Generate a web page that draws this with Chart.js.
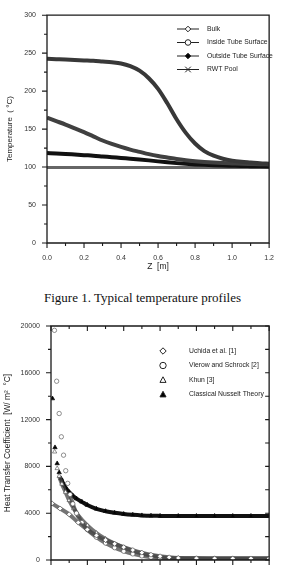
<!DOCTYPE html>
<html>
<head>
<meta charset="utf-8">
<script src="https://cdn.jsdelivr.net/npm/chart.js@4/dist/chart.umd.min.js"></script>
<style>
  html, body { margin: 0; padding: 0; background: #fff; width: 285px; height: 565px; overflow: hidden; }
  canvas { position: absolute; left: 0; }
  #tempChart { top: 0; }
  #htcChart { top: 305px; }
  #caption {
    position: absolute; left: 0; top: 291px; width: 285px; text-align: center;
    font: 13px/14px "Liberation Serif", "Times New Roman", serif; color: #111;
  }
</style>
</head>
<body>
<canvas id="tempChart" width="285" height="278"></canvas>
<div id="caption">Figure 1. Typical temperature profiles</div>
<canvas id="htcChart" width="285" height="300"></canvas>
<script>
// ---------- Figure 1: temperature profiles ----------
const zTop = [0, 0.05, 0.1, 0.15, 0.2, 0.25, 0.3, 0.35, 0.4, 0.45, 0.5, 0.55, 0.6,
  0.65, 0.7, 0.75, 0.8, 0.85, 0.9, 0.95, 1.0, 1.05, 1.1, 1.15, 1.2];
const bulk = [242.5, 242, 241.5, 241, 240.5, 240, 239, 238, 236.5, 233, 227, 217, 203,
  184, 163, 145, 131, 121, 115, 111, 108.5, 107, 106, 105, 104.5];
const insideSurface = [165, 160.5, 156, 151, 146, 140.5, 135, 130.5, 126.5, 123, 120, 117, 114.5,
  112.5, 110.5, 109, 107.8, 106.8, 106, 105.3, 104.8, 104.3, 104, 103.7, 103.5];
const outsideSurface = [118.5, 118, 117.3, 116.5, 115.7, 115, 114, 113, 112, 111, 110, 108.8, 107.5,
  106.3, 105.2, 104.3, 103.5, 102.9, 102.4, 102, 101.7, 101.4, 101.2, 101, 100.8];
const rwtPool = [99.5, 99.5, 99.5, 99.5, 99.5, 99.5, 99.5, 99.5, 99.5, 99.5, 99.5, 99.5, 99.5,
  99.5, 99.5, 99.5, 99.5, 99.5, 99.5, 99.5, 99.5, 99.5, 99.5, 99.5, 99.5];

// ---------- Figure 2: heat transfer coefficient ----------
const uchidaZ = [0.005, 0.05, 0.1, 0.15, 0.2, 0.25, 0.3, 0.35, 0.4, 0.45, 0.5, 0.55, 0.6,
  0.65, 0.7, 0.8, 0.9, 1.0, 1.1, 1.2];
const uchidaH = [4840, 4400, 3900, 3200, 2600, 2100, 1700, 1380, 1100, 850, 630, 450, 320,
  230, 170, 140, 130, 120, 120, 120];
const vierowZ = [0.019, 0.031, 0.045, 0.057, 0.069, 0.081, 0.092, 0.105, 0.12, 0.14, 0.17, 0.2,
  0.25, 0.3, 0.35, 0.4, 0.45, 0.5, 0.55, 0.6, 0.7, 0.8, 0.9, 1.0, 1.1, 1.2];
const vierowH = [19630, 15280, 12520, 10530, 8960, 7630, 6550, 5600, 4800, 4000, 3200, 2600,
  1950, 1450, 1050, 750, 520, 350, 240, 170, 130, 120, 120, 120, 120, 120];
const khunZ = [0.02, 0.034, 0.045, 0.06, 0.08, 0.1, 0.125, 0.15, 0.2, 0.25, 0.3, 0.35, 0.4,
  0.45, 0.5, 0.55, 0.6, 0.65, 0.7, 0.8, 0.9, 1.0, 1.1, 1.2];
const khunH = [9250, 7830, 7170, 6500, 5800, 5100, 4400, 3800, 2950, 2300, 1800, 1400, 1050,
  780, 560, 380, 250, 180, 150, 140, 135, 135, 130, 130];
const nusseltZ = [0.008, 0.022, 0.034, 0.045, 0.055, 0.07, 0.085, 0.1, 0.12, 0.14, 0.17, 0.2,
  0.25, 0.3, 0.35, 0.4, 0.45, 0.5, 0.55, 0.6, 0.7, 0.8, 0.9, 1.0, 1.1, 1.2];
const nusseltH = [13800, 9620, 8250, 7480, 6970, 6450, 6080, 5800, 5500, 5250, 4970, 4700,
  4370, 4170, 4030, 3930, 3860, 3810, 3780, 3770, 3760, 3760, 3760, 3760, 3760, 3760];

const FONT = '"Liberation Sans", Arial, sans-serif';
const pts = (xs, ys) => xs.map((x, i) => ({ x, y: ys[i] }));

function marker(ctx, style, x, y, r, filled) {
  ctx.beginPath();
  if (style === 'circle') {
    ctx.arc(x, y, r, 0, Math.PI * 2);
  } else if (style === 'rectRot') {
    ctx.moveTo(x, y - r); ctx.lineTo(x + r, y); ctx.lineTo(x, y + r); ctx.lineTo(x - r, y); ctx.closePath();
  } else if (style === 'triangle') {
    ctx.moveTo(x, y - r); ctx.lineTo(x + r * 0.95, y + r * 0.75); ctx.lineTo(x - r * 0.95, y + r * 0.75); ctx.closePath();
  } else {
    ctx.moveTo(x - r, y - r); ctx.lineTo(x + r, y + r); ctx.moveTo(x + r, y - r); ctx.lineTo(x - r, y + r);
  }
  if (style !== 'crossRot') {
    ctx.fillStyle = filled ? '#000' : '#fff';
    ctx.fill();
  }
  ctx.stroke();
}

// plot box and tick marks, placed with the scales' own ticks
function drawFrame(chart, o) {
  const ctx = chart.ctx;
  const a = chart.chartArea;
  const xs = chart.scales.x;
  const ys = chart.scales.y;
  ctx.save();
  ctx.strokeStyle = '#1a1a1a';
  ctx.lineWidth = 1.3;
  ctx.beginPath();
  ctx.moveTo(a.left, a.top); ctx.lineTo(a.right, a.top); ctx.lineTo(a.right, a.bottom);
  ctx.lineTo(a.left, a.bottom); ctx.closePath();
  ctx.stroke();
  ctx.lineWidth = 1.1;
  ctx.beginPath();
  xs.ticks.forEach((t, i) => {
    const px = xs.getPixelForValue(t.value);
    const len = i % 2 ? o.minor : o.major;
    ctx.moveTo(px, a.bottom); ctx.lineTo(px, a.bottom + len);
    if (o.inner) { ctx.moveTo(px, a.top); ctx.lineTo(px, a.top + len); }
  });
  ys.ticks.forEach((t, i) => {
    const py = ys.getPixelForValue(t.value);
    const len = i % 2 ? o.minor : o.major;
    ctx.moveTo(a.left - len, py); ctx.lineTo(a.left, py);
    if (o.inner) { ctx.moveTo(a.right - 4, py); ctx.lineTo(a.right, py); }
  });
  ctx.stroke();
  ctx.restore();
}

function drawLegend(chart, o) {
  const ctx = chart.ctx;
  ctx.save();
  ctx.font = `6.8px ${FONT}`;
  ctx.textBaseline = 'middle';
  ctx.lineWidth = 1;
  chart.data.datasets.forEach((ds, i) => {
    const yy = o.y + i * o.dy;
    ctx.strokeStyle = '#222';
    if (o.lineFrom) {
      ctx.beginPath(); ctx.moveTo(o.lineFrom, yy); ctx.lineTo(o.lineTo, yy); ctx.stroke();
    }
    marker(ctx, ds.pointStyle, o.markerX, yy, o.r, ds.filled);
    ctx.fillStyle = '#222';
    ctx.fillText(ds.label, o.textX, yy);
  });
  ctx.restore();
}

const decor = {
  id: 'decor',
  afterDraw(chart) {
    drawFrame(chart, chart.config.options.boxStyle);
    drawLegend(chart, chart.config.options.legendStyle);
  }
};

function axisX(height) {
  return {
    type: 'linear', min: 0, max: 1.2,
    grid: { display: false, drawTicks: false },
    border: { display: false },
    ticks: {
      stepSize: 0.1, autoSkip: false, maxRotation: 0, padding: 11, color: '#333',
      font: { family: FONT, size: 7 },
      callback: (v, i) => (i % 2 ? '' : v.toFixed(1))
    },
    title: { display: true, text: 'Z  [m]', color: '#222', font: { family: FONT, size: 8.5 }, padding: { top: 0, bottom: 6 } },
    afterFit: s => { s.height = height; }
  };
}

function axisY(max, step, title, width, titlePad, titleSize) {
  return {
    type: 'linear', min: 0, max,
    grid: { display: false, drawTicks: false },
    border: { display: false },
    ticks: {
      stepSize: step, autoSkip: false, padding: 11, color: '#333',
      font: { family: FONT, size: 7 },
      callback: (v, i) => (i % 2 ? '' : v)
    },
    title: { display: true, text: title, color: '#222', font: { family: FONT, size: titleSize }, padding: { top: titlePad, bottom: 0 } },
    afterFit: s => { s.width = width; }
  };
}

new Chart(document.getElementById('tempChart'), {
  type: 'line',
  data: {
    datasets: [
      { label: 'Bulk', data: pts(zTop, bulk), pointStyle: 'rectRot', filled: false, borderColor: '#383838', borderWidth: 4 },
      { label: 'Inside Tube Surface', data: pts(zTop, insideSurface), pointStyle: 'circle', filled: false, borderColor: '#404040', borderWidth: 4 },
      { label: 'Outside Tube Surface', data: pts(zTop, outsideSurface), pointStyle: 'rectRot', filled: true, borderColor: '#111', borderWidth: 4 },
      { label: 'RWT Pool', data: pts(zTop, rwtPool), pointStyle: 'crossRot', filled: false, borderColor: '#666', borderWidth: 3 }
    ]
  },
  options: {
    responsive: false,
    animation: false,
    layout: { padding: { top: 8, right: 6, left: 0, bottom: 0 } },
    elements: { point: { radius: 0 }, line: { cubicInterpolationMode: 'monotone' } },
    scales: {
      x: axisX(35),
      y: axisY(300, 25, 'Temperature  ( \u00b0C)', 47, 5, 8)
    },
    boxStyle: { major: 5, minor: 3, inner: false },
    legendStyle: { y: 29, dy: 13.5, markerX: 188, lineFrom: 177, lineTo: 199, textX: 207, r: 2.8 },
    plugins: { legend: { display: false }, tooltip: { enabled: false } }
  },
  plugins: [decor]
});

function band(from, color) {
  return c => (c.p0.parsed.x < from ? 'rgba(0,0,0,0)' : color);
}

new Chart(document.getElementById('htcChart'), {
  type: 'line',
  data: {
    datasets: [
      { label: 'Uchida et al. [1]', data: pts(uchidaZ, uchidaH), pointStyle: 'rectRot', filled: false,
        borderColor: 'rgba(70,70,70,0.75)', segment: { borderColor: band(0, 'rgba(70,70,70,0.75)') },
        pointBackgroundColor: '#fff', pointRadius: 2.5 },
      { label: 'Vierow and Schrock [2]', data: pts(vierowZ, vierowH), pointStyle: 'circle', filled: false,
        borderColor: 'rgba(70,70,70,0.75)', segment: { borderColor: band(0.1, 'rgba(70,70,70,0.75)') },
        pointBackgroundColor: '#fff', pointRadius: 2.2 },
      { label: 'Khun [3]', data: pts(khunZ, khunH), pointStyle: 'triangle', filled: false,
        borderColor: 'rgba(70,70,70,0.75)', segment: { borderColor: band(0.044, 'rgba(70,70,70,0.75)') },
        pointBackgroundColor: '#fff', pointRadius: 2.5 },
      { label: 'Classical Nusselt Theory', data: pts(nusseltZ, nusseltH), pointStyle: 'triangle', filled: true,
        borderColor: '#111', segment: { borderColor: band(0.054, '#111') },
        pointBackgroundColor: '#000', pointRadius: 2.5 }
    ]
  },
  options: {
    responsive: false,
    animation: false,
    layout: { padding: { top: 21, right: 2, left: 0, bottom: 0 } },
    elements: {
      point: { borderColor: '#222', borderWidth: 0.8 },
      line: { borderWidth: 4, cubicInterpolationMode: 'monotone' }
    },
    scales: {
      x: axisX(45),
      y: axisY(20000, 2000, 'Heat Transfer Coefficient  [W/ m\u00b2  \u00b0C]', 51, 3, 8.4)
    },
    boxStyle: { major: 5, minor: 3, inner: true },
    legendStyle: { y: 46, dy: 14.5, markerX: 163, lineFrom: 0, textX: 189, r: 3.2 },
    plugins: { legend: { display: false }, tooltip: { enabled: false } }
  },
  plugins: [decor]
});
</script>
</body>
</html>
